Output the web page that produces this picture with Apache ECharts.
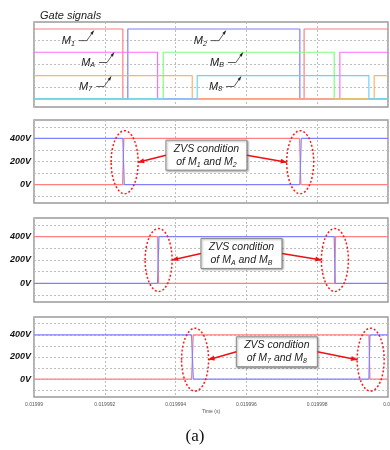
<!DOCTYPE html>
<html>
<head>
<meta charset="utf-8">
<script src="https://cdn.jsdelivr.net/npm/echarts@6/dist/echarts.min.js"></script>
<style>
  html, body { margin: 0; padding: 0; background: #fff; }
  #chart { width: 390px; height: 450px; }
</style>
</head>
<body>
<div id="chart"></div>
<script>
// ---- Time axis (microseconds internally, labels in seconds) ----
const timeTicksUs = [19990, 19992, 19994, 19996, 19998, 20000];
const timeTickLabels = ['0.01999', '0.019992', '0.019994', '0.019996', '0.019998', '0.02'];

// ---- Voltage axis ----
const voltageLabelTicks = [0, 200, 400];
const voltageGridLines = [-100, 0, 100, 200, 300, 400, 500];
const gateGridLines = [0.5, 1.5, 2.5];

// ---- Gate signals: [time (us), stacked level] ----
const gateM1 = [[19990, 3], [19992.51, 3], [19992.51, 0], [19997.63, 0], [19997.63, 3], [20000, 3]];
const gateM2 = [[19990, 0], [19992.65, 0], [19992.65, 3], [19997.51, 3], [19997.51, 0], [20000, 0]];
const gateMA = [[19990, 2], [19993.49, 2], [19993.49, 0], [19998.64, 0], [19998.64, 2], [20000, 2]];
const gateMB = [[19990, 0], [19993.65, 0], [19993.65, 2], [19998.48, 2], [19998.48, 0], [20000, 0]];
const gateM7 = [[19990, 1], [19994.47, 1], [19994.47, 0], [19999.61, 0], [19999.61, 1], [20000, 1]];
const gateM8 = [[19990, 0], [19994.61, 0], [19994.61, 1], [19999.46, 1], [19999.46, 0], [20000, 0]];

// ---- Switch voltages: [time (us), volts] ----
const vM1 = [[19990, 0], [19992.50, 0], [19992.54, 400], [19997.50, 400], [19997.54, 0], [20000, 0]];
const vM2 = [[19990, 400], [19992.51, 400], [19992.55, 0], [19997.51, 0], [19997.55, 400], [20000, 400]];
const vMA = [[19990, 400], [19993.49, 400], [19993.52, 0], [19998.49, 0], [19998.52, 400], [20000, 400]];
const vMB = [[19990, 0], [19993.49, 0], [19993.53, 400], [19998.48, 400], [19998.51, 0], [20000, 0]];
const vM7 = [[19990, 0], [19994.45, 0], [19994.50, 400], [19999.46, 400], [19999.49, 0], [20000, 0]];
const vM8 = [[19990, 400], [19994.45, 400], [19994.50, 0], [19999.46, 0], [19999.49, 400], [20000, 400]];

// ---- ZVS annotation anchors (time us, volts) ----
const zvsEllipsesM12 = [[19992.56, 194], [19997.52, 194]];
const zvsEllipsesMAB = [[19993.52, 200], [19998.50, 200]];
const zvsEllipsesM78 = [[19994.55, 176], [19999.51, 176]];
const zvsBoxM12 = [19994.87, 255];
const zvsBoxMAB = [19995.86, 256];
const zvsBoxM78 = [19996.86, 247];

// ---- Gate label arrow tips (time us, level) ----
const gateLabelTips = [
  { name: 'M', sub: '1', at: [19991.69, 2.93] },
  { name: 'M', sub: 'A', at: [19992.26, 1.99] },
  { name: 'M', sub: '7', at: [19992.18, 0.96] },
  { name: 'M', sub: '2', at: [19995.42, 2.93] },
  { name: 'M', sub: 'B', at: [19995.90, 1.99] },
  { name: 'M', sub: '8', at: [19995.85, 0.96] }
];

const RED = '#ff8080', BLUE = '#8080ff';
const FONT = '"Liberation Sans", Arial, sans-serif';

const grids = [
  { left: 34, right: 2, top: 22, height: 85 },
  { left: 34, right: 2, top: 120, height: 83 },
  { left: 34, right: 2, top: 218, height: 84 },
  { left: 34, right: 2, top: 317, height: 80 }
];

const chart = echarts.init(document.getElementById('chart'), null, { renderer: 'canvas' });

function xAxisFor(i) {
  const last = i === grids.length - 1;
  return {
    type: 'value', gridIndex: i, min: timeTicksUs[0], max: timeTicksUs[timeTicksUs.length - 1], interval: 2,
    axisLine: { show: false }, axisTick: { show: false },
    splitLine: { show: true, lineStyle: { color: '#bdbdbd', type: [2, 2], width: 1 } },
    axisLabel: {
      show: last, fontSize: 5, color: '#555', margin: 5, fontFamily: FONT,
      formatter: v => { const k = timeTicksUs.indexOf(v); return k >= 0 ? timeTickLabels[k] : ''; }
    },
    name: last ? 'Time (s)' : '', nameLocation: 'middle', nameGap: 12,
    nameTextStyle: { fontSize: 5, color: '#555', fontFamily: FONT }
  };
}

function yAxisFor(i) {
  if (i === 0) {
    return {
      type: 'value', gridIndex: 0, min: -0.35, max: 3.3,
      axisLine: { show: false }, axisTick: { show: false }, axisLabel: { show: false }, splitLine: { show: false }
    };
  }
  return {
    type: 'value', gridIndex: i, min: -160, max: 560,
    axisLine: { show: false }, axisTick: { show: false }, splitLine: { show: false },
    axisLabel: {
      customValues: voltageLabelTicks, formatter: v => v + 'V',
      fontSize: 9, fontWeight: 'bold', fontStyle: 'italic', color: '#111', margin: 3, fontFamily: FONT
    }
  };
}

function gridLines(values) {
  return {
    silent: true, symbol: ['none', 'none'], z: 1, animation: false,
    label: { show: false },
    lineStyle: { color: '#bdbdbd', type: [2, 2], width: 1 },
    emphasis: { disabled: true },
    data: values.map(v => ({ yAxis: v }))
  };
}

function trace(data, color, grid, lines) {
  const s = {
    type: 'line', data: data, xAxisIndex: grid, yAxisIndex: grid,
    showSymbol: false, symbol: 'none', animation: false, silent: true,
    lineStyle: { color: color, width: 1.2 }, itemStyle: { color: color }
  };
  if (lines) s.markLine = gridLines(lines);
  return s;
}

const option = {
  backgroundColor: '#fff',
  animation: false,
  title: {
    text: 'Gate signals', left: 35, top: 5,
    textStyle: { fontSize: 11, fontStyle: 'italic', fontWeight: 'normal', color: '#222', fontFamily: FONT }
  },
  grid: grids.map(g => Object.assign({
    show: true, borderColor: '#9a9a9a', borderWidth: 1.5, backgroundColor: '#fff',
    outerBoundsMode: 'none', containLabel: false
  }, g)),
  xAxis: grids.map((g, i) => xAxisFor(i)),
  yAxis: grids.map((g, i) => yAxisFor(i)),
  series: [
    trace(gateM1, '#ff7f7f', 0, gateGridLines),
    trace(gateM2, '#7f7fff', 0),
    trace(gateMA, '#ff6eff', 0),
    trace(gateMB, '#7dff7d', 0),
    trace(gateM7, '#ffb366', 0),
    trace(gateM8, '#6fd0ff', 0),
    trace(vM1, RED, 1, voltageGridLines),
    trace(vM2, BLUE, 1),
    trace(vMA, RED, 2, voltageGridLines),
    trace(vMB, BLUE, 2),
    trace(vM7, RED, 3, voltageGridLines),
    trace(vM8, BLUE, 3)
  ]
};

chart.setOption(option);

// ---- Annotations placed from axis coordinates ----
const toPx = (g, p) => chart.convertToPixel({ gridIndex: g }, p);

function arrowHead(from, to, len, wid, color) {
  const dx = to[0] - from[0], dy = to[1] - from[1];
  const d = Math.hypot(dx, dy) || 1;
  const ux = dx / d, uy = dy / d;
  const bx = to[0] - ux * len, by = to[1] - uy * len;
  const nx = -uy * wid / 2, ny = ux * wid / 2;
  return {
    type: 'polygon', silent: true, z: 20,
    shape: { points: [to, [bx + nx, by + ny], [bx - nx, by - ny]] },
    style: { fill: color }
  };
}

const elements = [];

// gate labels with leader arrows
gateLabelTips.forEach(lbl => {
  const tip = toPx(0, lbl.at);
  const knee = [tip[0] - 7, tip[1] + 10];
  const start = [tip[0] - 15, tip[1] + 10];
  elements.push({
    type: 'polyline', silent: true, z: 20,
    shape: { points: [start, knee, tip] },
    style: { stroke: '#333', lineWidth: 0.8, fill: null }
  });
  elements.push(arrowHead(knee, tip, 4, 3, '#222'));
  elements.push({
    type: 'text', silent: true, z: 20, x: start[0] - 4, y: start[1],
    style: {
      text: '{m|' + lbl.name + '}{s|' + lbl.sub + '}',
      align: 'right', verticalAlign: 'middle',
      rich: {
        m: { fontSize: 11, fontStyle: 'italic', fontFamily: FONT, fill: '#222', lineHeight: 13 },
        s: { fontSize: 7, fontStyle: 'italic', fontFamily: FONT, fill: '#222', lineHeight: 13, verticalAlign: 'bottom' }
      }
    }
  });
});

function zvsCallout(g, ellipses, box, subA, subB) {
  const RX = 13.5, RY = 31.5, BW = 81, BH = 30;
  const centers = ellipses.map(e => toPx(g, e));
  centers.forEach(c => {
    elements.push({
      type: 'ellipse', silent: true, z: 20,
      shape: { cx: c[0], cy: c[1], rx: RX, ry: RY },
      style: { fill: null, stroke: '#ff1a1a', lineWidth: 1.5, lineDash: [2, 2] }
    });
  });
  const bc = toPx(g, box);
  const left = bc[0] - BW / 2, top = bc[1] - BH / 2;
  elements.push({
    type: 'rect', silent: true, z: 21,
    shape: { x: left, y: top, width: BW, height: BH },
    style: { fill: '#fff', stroke: '#8a8a8a', lineWidth: 1, shadowColor: 'rgba(0,0,0,0.35)', shadowBlur: 2, shadowOffsetX: 1, shadowOffsetY: 1 }
  });
  const rich = {
    t: { fontSize: 10.5, fontStyle: 'italic', fontFamily: FONT, fill: '#222', lineHeight: 13 },
    s: { fontSize: 7, fontStyle: 'italic', fontFamily: FONT, fill: '#222', lineHeight: 13, verticalAlign: 'bottom' }
  };
  elements.push({
    type: 'text', silent: true, z: 22, x: bc[0], y: bc[1],
    style: {
      text: '{t|ZVS condition}\n{t|of M}{s|' + subA + '}{t| and M}{s|' + subB + '}',
      align: 'center', verticalAlign: 'middle', rich: rich
    }
  });
  const a1s = [left, bc[1]], a1e = [centers[0][0] + RX, centers[0][1]];
  const a2s = [left + BW, bc[1]], a2e = [centers[1][0] - RX, centers[1][1]];
  [[a1s, a1e], [a2s, a2e]].forEach(([s, e]) => {
    elements.push({
      type: 'line', silent: true, z: 21,
      shape: { x1: s[0], y1: s[1], x2: e[0], y2: e[1] },
      style: { stroke: '#ee1111', lineWidth: 1.5 }
    });
    elements.push(arrowHead(s, e, 6, 5, '#ee1111'));
  });
}

zvsCallout(1, zvsEllipsesM12, zvsBoxM12, '1', '2');
zvsCallout(2, zvsEllipsesMAB, zvsBoxMAB, 'A', 'B');
zvsCallout(3, zvsEllipsesM78, zvsBoxM78, '7', '8');

// figure caption
elements.push({
  type: 'text', silent: true, z: 20, x: 195, y: 437,
  style: { text: '(a)', align: 'center', verticalAlign: 'middle', fontSize: 17, fontFamily: '"Liberation Serif", "DejaVu Serif", serif', fill: '#111' }
});

chart.setOption({ graphic: { elements: elements } });
</script>
</body>
</html>
